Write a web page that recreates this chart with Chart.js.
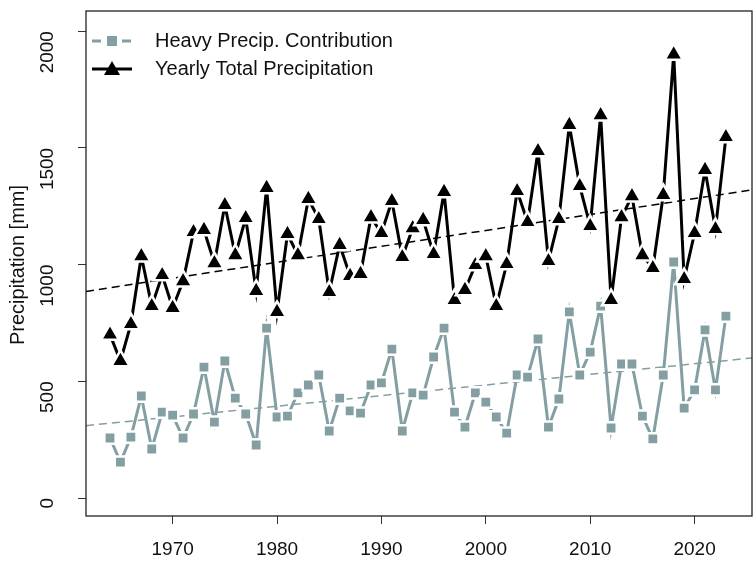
<!DOCTYPE html>
<html><head><meta charset="utf-8">
<script src="https://cdn.jsdelivr.net/npm/chart.js@4"></script>
<style>html,body{margin:0;padding:0;background:#fff}#wrap{width:754px;height:579px}</style>
</head><body><div id="wrap"><canvas id="c" width="754" height="579"></canvas></div>
<script>
const years = Array.from({length:60},(_,i)=>1964+i);
const totalPrecip = [700,587,745,1036,822,955,814,929,1139,1148,1006,1255,1040,1199,887,1328,797,1131,1040,1281,1195,882,1084,951,960,1203,1135,1272,1032,1156,1191,1045,1311,848,891,998,1036,822,1002,1315,1182,1486,1015,1195,1598,1336,1165,1640,848,1203,1293,1040,985,1298,1900,938,1135,1405,1152,1546];
const heavyPrecip = [257,154,261,437,210,368,355,257,360,561,325,587,428,360,227,728,347,351,450,484,527,287,428,373,364,484,493,638,287,450,441,604,728,368,304,450,411,347,278,527,518,681,304,424,797,527,625,822,300,574,574,351,253,527,1011,385,463,720,463,779];
const trendTotal = [[1961.7,885],[2025.5,1320]];
const trendHeavy = [[1961.7,310],[2025.5,600]];
const xTicks = [1970,1980,1990,2000,2010,2020];
const yTicks = [0,500,1000,1500,2000];
const seriesNames = ["Heavy Precip. Contribution","Yearly Total Precipitation"];

const GRAY = '#849fa2';
const FONT = 'Liberation Sans, Arial, sans-serif';
const toXY = (vals)=>vals.map((v,i)=>({x:years[i],y:v}));
const toPts = (t)=>t.map(p=>({x:p[0],y:p[1]}));

const extras = {
  id:'extras',
  afterDraw(chart){
    const ctx = chart.ctx, a = chart.chartArea;
    ctx.save();
    ctx.strokeStyle='#222'; ctx.lineWidth=1.3;
    ctx.strokeRect(a.left,a.top,a.right-a.left,a.bottom-a.top);
    ctx.fillStyle='#111'; ctx.font='20px '+FONT;
    ctx.translate(18,265); ctx.rotate(-Math.PI/2);
    ctx.textAlign='center'; ctx.textBaseline='middle';
    ctx.fillText('Precipitation [mm]',0,0);
    ctx.restore();
    ctx.save();
    ctx.font='20px '+FONT; ctx.textBaseline='middle'; ctx.textAlign='left';
    let y=41;
    ctx.strokeStyle=GRAY; ctx.lineWidth=3; ctx.setLineDash([9,6]);
    ctx.beginPath(); ctx.moveTo(92,y); ctx.lineTo(132,y); ctx.stroke();
    ctx.setLineDash([]);
    ctx.fillStyle=GRAY; ctx.fillRect(107,y-5,10,10);
    ctx.fillStyle='#111'; ctx.fillText(seriesNames[0],155,y);
    y=69;
    ctx.strokeStyle='#000'; ctx.lineWidth=3;
    ctx.beginPath(); ctx.moveTo(92,y); ctx.lineTo(132,y); ctx.stroke();
    ctx.fillStyle='#000'; ctx.beginPath(); ctx.moveTo(112,y-8); ctx.lineTo(120,y+6); ctx.lineTo(104,y+6); ctx.closePath(); ctx.fill();
    ctx.fillStyle='#111'; ctx.fillText(seriesNames[1],155,y);
    ctx.restore();
  }
};

new Chart(document.getElementById('c'),{
  type:'scatter',
  data:{datasets:[
    {data:toPts(trendTotal),showLine:true,borderColor:'#000',borderWidth:1.5,borderDash:[8,5],pointRadius:0,order:3},
    {data:toPts(trendHeavy),showLine:true,borderColor:GRAY,borderWidth:1.5,borderDash:[8,5],pointRadius:0,order:3},
    {data:toXY(heavyPrecip),showLine:true,borderColor:GRAY,borderWidth:3,pointStyle:'rect',pointRadius:8,pointBackgroundColor:GRAY,pointBorderColor:'#fff',pointBorderWidth:2.5,order:2},
    {data:toXY(totalPrecip),showLine:true,borderColor:'#000',borderWidth:3,pointStyle:'triangle',pointRadius:10.5,pointBackgroundColor:'#000',pointBorderColor:'#fff',pointBorderWidth:2.5,order:1}
  ]},
  options:{
    responsive:false,animation:false,
    layout:{autoPadding:false,padding:{top:11,right:2,left:0,bottom:0}},
    plugins:{legend:{display:false},tooltip:{enabled:false}},
    scales:{
      x:{type:'linear',min:1961.7,max:2025.5,
        afterBuildTicks(s){s.ticks=xTicks.map(v=>({value:v}));},
        afterFit(s){s.height=63;s.paddingLeft=0;s.paddingRight=0;},
        grid:{drawOnChartArea:false,tickLength:8,color:'#333'},border:{display:false},
        ticks:{color:'#111',font:{family:FONT,size:19},padding:14,maxRotation:0,autoSkip:false,callback:v=>String(v)}},
      y:{min:-77,max:2086,
        afterBuildTicks(s){s.ticks=yTicks.map(v=>({value:v}));},
        afterFit(s){s.width=86;s.paddingTop=0;s.paddingBottom=0;},
        grid:{drawOnChartArea:false,tickLength:8,color:'#333'},border:{display:false},
        ticks:{color:'#111',font:{family:FONT,size:19},padding:30,minRotation:90,maxRotation:90,autoSkip:false,callback:v=>String(v)}}
    }
  },
  plugins:[extras]
});
</script></body></html>
